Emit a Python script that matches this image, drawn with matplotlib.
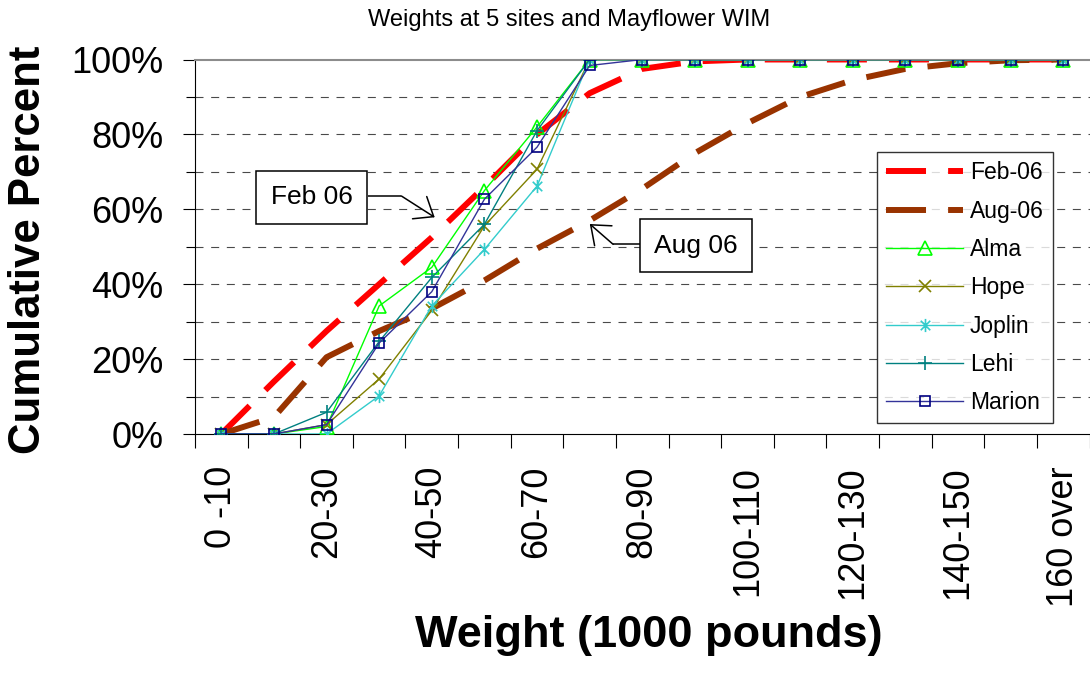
import numpy as np
import matplotlib
matplotlib.use("Agg")
import matplotlib.pyplot as plt
from matplotlib.path import Path
from matplotlib.ticker import FixedLocator, NullFormatter, PercentFormatter

plt.rcParams['font.family'] = ['Liberation Sans', 'DejaVu Sans']

# ---- data -------------------------------------------------------------
categories = ['0 -10', '10-20', '20-30', '30-40', '40-50', '50-60', '60-70',
              '70-80', '80-90', '90-100', '100-110', '110-120', '120-130',
              '130-140', '140-150', '150-160', '160 over']

feb_06 = [0, 14, 27.5, 40, 52.5, 66, 80, 91, 97.5, 99.5, 100, 100, 100, 100, 100, 100, 100]
aug_06 = [0, 4.5, 20.5, 27.5, 33.5, 41, 49.5, 57, 65.5, 75, 83, 90, 94.5, 97.5, 99, 99.8, 100]
alma = [0, 0, 2, 34.2, 44.5, 65, 82, 100, 100, 100, 100, 100, 100, 100, 100, 100, 100]
hope = [0, 0, 2.5, 14.7, 33, 55.6, 70.7, 100, 100, 100, 100, 100, 100, 100, 100, 100, 100]
joplin = [0, 0, 0, 10.2, 34.2, 49.3, 66.2, 100, 100, 100, 100, 100, 100, 100, 100, 100, 100]
lehi = [0, 0, 5.8, 24.7, 41.8, 56, 81, 100, 100, 100, 100, 100, 100, 100, 100, 100, 100]
marion = [0, 0, 2.5, 24.3, 38, 62.7, 76.6, 98.4, 100, 100, 100, 100, 100, 100, 100, 100, 100]

title = 'Weights at 5 sites and Mayflower WIM'
y_label = 'Cumulative Percent'
x_label = 'Weight (1000 pounds)'

# ---- figure -----------------------------------------------------------
W, H = 1090, 675
fig = plt.figure(figsize=(W / 100, H / 100), dpi=100)
ax = fig.add_axes([195 / W, 1 - 434 / H, (1089.6 - 195) / W, (434 - 59.5) / H])

x = np.arange(len(categories))
ax.set_xlim(-0.5, len(categories) - 0.5)
ax.set_ylim(0, 100)

# horizontal grid every 10 %
for gy in range(10, 100, 10):
    ax.axhline(gy, color='#4A4A4A', lw=0.8, dashes=(7.2, 6.9), zorder=0.5)

# survey curves (thick dashed)
dash_pat = (6.7, 3.7)
ax.plot(x, feb_06, color='#FF0000', lw=4.3, dashes=dash_pat, label='Feb-06', zorder=2)
ax.plot(x, aug_06, color='#993300', lw=4.3, dashes=dash_pat, label='Aug-06', zorder=2)

# site curves
star = Path([(0, -1), (0, 1), (-0.72, -0.72), (0.72, 0.72), (-0.72, 0.72), (0.72, -0.72)],
            [Path.MOVETO, Path.LINETO, Path.MOVETO, Path.LINETO, Path.MOVETO, Path.LINETO])
site_style = [
    (alma, 'Alma', '#00FF00', '#00FF00', '^', 10),
    (hope, 'Hope', '#808000', '#808000', 'x', 8.5),
    (joplin, 'Joplin', '#33CCCC', '#33CCCC', star, 9.5),
    (lehi, 'Lehi', '#008080', '#008080', '+', 9.5),
    (marion, 'Marion', '#333399', '#000080', 's', 7.5),
]
for vals, name, lc, mc, mk, ms in site_style:
    ax.plot(x, vals, color=lc, lw=1.0, marker=mk, markersize=ms,
            markerfacecolor='none', markeredgecolor=mc, markeredgewidth=1.2,
            label=name, zorder=3)

# axes styling
ax.spines['right'].set_visible(False)
ax.spines['top'].set_color('#8C8C8C')
ax.spines['top'].set_linewidth(1.5)
ax.spines['left'].set_linewidth(0.8)
ax.spines['bottom'].set_linewidth(0.8)

ax.yaxis.set_major_locator(FixedLocator(range(0, 101, 20)))
ax.yaxis.set_minor_locator(FixedLocator(range(10, 100, 20)))
ax.yaxis.set_major_formatter(PercentFormatter(decimals=0))
ax.tick_params(axis='y', which='major', direction='out', length=8.6, width=0.8,
               labelsize=26, pad=14)
ax.tick_params(axis='y', which='minor', direction='out', length=6.5, width=0.8)

# x ticks sit between categories; labels on every second category
ax.xaxis.set_major_locator(FixedLocator(np.arange(-0.5, len(categories), 1.0)))
ax.xaxis.set_major_formatter(NullFormatter())
ax.xaxis.set_minor_locator(FixedLocator(x[::2]))
ax.xaxis.set_ticklabels(categories[::2], minor=True, rotation=90, fontsize=26)
ax.tick_params(axis='x', which='major', direction='out', length=10, width=0.8)
ax.tick_params(axis='x', which='minor', length=0, pad=23)

# legend
leg = ax.legend(loc='upper left', bbox_to_anchor=(877 / W, 1 - 152 / H),
                bbox_transform=fig.transFigure, fontsize=16.5, frameon=True,
                fancybox=False, shadow=False, borderaxespad=0, borderpad=0.4,
                labelspacing=0.67, handlelength=3.35, handletextpad=0.3)
leg.get_frame().set_edgecolor('black')
leg.get_frame().set_linewidth(1.0)
leg.set_zorder(5)


# callouts
def px_to_data(px, py):
    return (px - 221.7) / 52.6, (434 - py) / 374.5 * 100


def callout(text, center, knee, start, tip):
    cx, cy = px_to_data(*center)
    ax.text(cx, cy, text, fontsize=19, ha='center', va='center', zorder=6,
            bbox=dict(boxstyle='square,pad=0.55', fc='white', ec='black', lw=1.1))
    s = px_to_data(*start)
    k = px_to_data(*knee)
    t = px_to_data(*tip)
    ax.plot([s[0], k[0]], [s[1], k[1]], color='black', lw=1.1, zorder=6,
            solid_capstyle='butt')
    ax.annotate('', xy=t, xytext=k, zorder=6,
                arrowprops=dict(arrowstyle='->,head_length=1.2,head_width=0.95',
                                mutation_scale=10, color='black', lw=1.1,
                                shrinkA=0, shrinkB=0))


callout('Feb 06', (311.8, 197.5), (401.7, 196), (368, 196), (435, 217.3))
callout('Aug 06', (696.2, 245.5), (613.3, 244.3), (640, 244.3), (590, 224))

# titles
fig.text(569 / W, 1 - 20 / H, title, fontsize=17, ha='center', va='center')
fig.text(29 / W, 1 - 250 / H, y_label, fontsize=31.5, fontweight='bold',
         rotation=90, ha='center', va='center')
fig.text(649 / W, 1 - 636 / H, x_label, fontsize=32.5, fontweight='bold',
         ha='center', va='center')

fig.savefig('out.png', dpi=100)
